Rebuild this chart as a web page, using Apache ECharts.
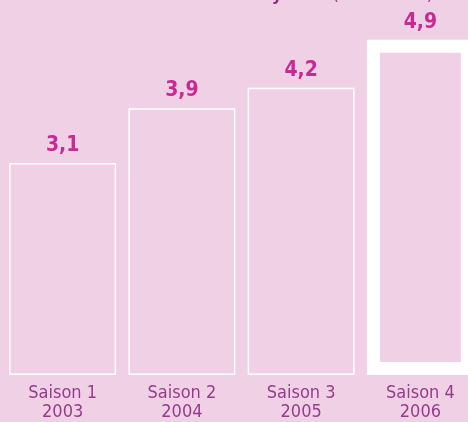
<!DOCTYPE html>
<html>
<head>
<meta charset="utf-8">
<script src="https://cdn.jsdelivr.net/npm/echarts@6/dist/echarts.min.js"></script>
<style>
html,body{margin:0;padding:0;background:#f0d0e4;}
#chart{width:468px;height:422px;}
</style>
</head>
<body>
<div id="chart"></div>
<script>
const seasons = ["Saison 1", "Saison 2", "Saison 3", "Saison 4"];
const years = ["2003", "2004", "2005", "2006"];
const values = [3.1, 3.9, 4.2, 4.9];
const titleBold = "Audience moyenne";
const titleRest = " (en millions)";

const chart = echarts.init(document.getElementById('chart'), null, {renderer: 'canvas'});
const LABEL_FONT = '"Liberation Sans Narrow", "DejaVu Sans Condensed", sans-serif';

chart.setOption({
  backgroundColor: '#f0d0e4',
  animation: false,
  grid: {left: 3, width: 477, top: 33, bottom: 47, containLabel: false, outerBoundsMode: 'none'},
  xAxis: {
    type: 'category',
    data: seasons,
    axisLine: {show: false},
    axisTick: {show: false},
    axisLabel: {
      interval: 0,
      margin: 9,
      color: '#963c8c',
      fontFamily: LABEL_FONT,
      fontSize: 18,
      lineHeight: 19,
      hideOverlap: false,
      formatter: (v, i) => v + '\n' + years[i]
    }
  },
  yAxis: {
    type: 'value', min: 0, max: 5,
    show: false,
    splitLine: {show: false}
  },
  graphic: [{
    type: 'text',
    x: 433, y: 4,
    style: {
      text: '{b|' + titleBold + '}{r|' + titleRest + '}',
      align: 'right',
      verticalAlign: 'bottom',
      rich: {
        b: {fontFamily: LABEL_FONT, fontWeight: 'bold', fontSize: 18, fill: '#9a2a80', color: '#9a2a80'},
        r: {fontFamily: LABEL_FONT, fontSize: 18, fill: '#963c8c', color: '#963c8c'}
      }
    }
  }],
  series: [{
    type: 'custom',
    data: values.map((v, i) => [i, v]),
    encode: {x: 0, y: 1},
    renderItem: function (params, api) {
      const idx = api.value(0);
      const top = api.coord([idx, api.value(1)]);
      const base = api.coord([idx, 0]);
      const band = api.size([1, 0])[0];
      const w = band * 0.897;
      const lw = idx === 3 ? 13 : 1.5;
      const x0 = top[0] - w / 2;
      const label = api.value(1).toFixed(1).replace('.', ',');
      return {
        type: 'group',
        children: [{
          type: 'rect',
          shape: {x: x0 + lw / 2, y: top[1] + lw / 2, width: w - lw, height: base[1] - top[1] - lw},
          style: {fill: '#f0d0e4', stroke: '#ffffff', lineWidth: lw}
        }, {
          type: 'text',
          x: top[0], y: top[1] - 7,
          style: {
            text: label,
            align: 'center',
            verticalAlign: 'bottom',
            fontFamily: LABEL_FONT,
            fontWeight: 'bold',
            fontSize: 21,
            fill: '#c62a95'
          }
        }]
      };
    }
  }]
});
</script>
</body>
</html>
